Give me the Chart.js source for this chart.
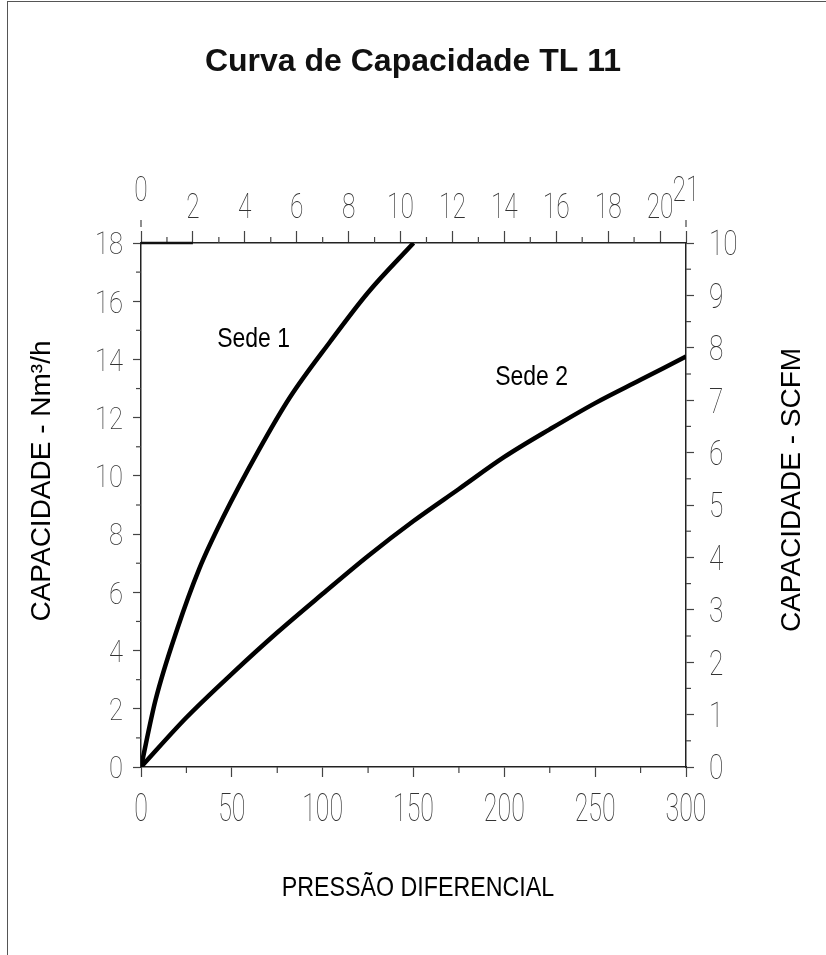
<!DOCTYPE html>
<html>
<head>
<meta charset="utf-8">
<title>Curva de Capacidade TL 11</title>
<script src="https://cdn.jsdelivr.net/npm/chart.js@4.4.1/dist/chart.umd.min.js"></script>
<style>
  html, body { margin: 0; padding: 0; background: #fff; }
  #wrap { position: relative; width: 826px; height: 955px; overflow: hidden; }
  #frame { position: absolute; left: 7px; top: 1px; right: -10px; bottom: -10px;
           border-left: 1.5px solid #555; border-top: 1.5px solid #555; pointer-events: none; }
  canvas { position: absolute; left: 0; top: 0; }
</style>
</head>
<body>
<div id="wrap">
  <canvas id="capChart" width="826" height="955"></canvas>
  <div id="frame"></div>
</div>
<script>
// Sede 1 curve (pressure differential vs capacity Nm3/h)
const sede1Pressure = [0, 8, 20, 32, 45, 65, 82, 104, 125, 150];
const sede1Flow     = [0, 2.3, 4.75, 6.8, 8.55, 10.9, 12.7, 14.6, 16.3, 18];

// Sede 2 curve
const sede2Pressure = [0, 25, 50, 75, 100, 125, 150, 175, 200, 225, 250, 275, 300];
const sede2Flow     = [0, 1.7, 3.2, 4.62, 5.95, 7.25, 8.45, 9.55, 10.65, 11.6, 12.5, 13.3, 14.1];

// tick values
const pressureTicks = [0, 50, 100, 150, 200, 250, 300];
const pressureMinor = [25, 75, 125, 175, 225, 275];
const topTicks      = [0, 2, 4, 6, 8, 10, 12, 14, 16, 18, 20, 21];
const topMinor      = [1, 3, 5, 7, 9, 11, 13, 15, 17, 19];
const topRaised     = [0, 21];
const nm3Ticks      = [0, 2, 4, 6, 8, 10, 12, 14, 16, 18];
const nm3Minor      = [1, 3, 5, 7, 9, 11, 13, 15, 17];
const scfmTicks     = [0, 1, 2, 3, 4, 5, 6, 7, 8, 9, 10];
const scfmMinor     = [0.5, 1.5, 2.5, 3.5, 4.5, 5.5, 6.5, 7.5, 8.5, 9.5];

// curve labels
const seatLabels   = ["Sede 1", "Sede 2"];
const seatLabelX   = [62, 215];
const seatLabelY   = [14.7, 13.4];

const tickFamily = "Roboto, 'DejaVu Sans', sans-serif";
const tickColor = "#333";
const axisColor = "#222";

function toPoints(xs, ys) {
  return xs.map((x, i) => ({ x: x, y: ys[i] }));
}

function fixedTicks(values) {
  return (scale) => {
    scale.ticks = values.map((v) => ({ value: v }));
  };
}

// draws a narrow, thin label centred vertically on cy
function thinText(ctx, text, x, cy, size, sx, align) {
  ctx.save();
  ctx.font = "100 " + size + "px " + tickFamily;
  ctx.textAlign = align;
  ctx.textBaseline = "alphabetic";
  ctx.translate(x, cy + size * 0.355);
  ctx.scale(sx, 1);
  ctx.fillText(text, 0, 0);
  ctx.restore();
}

// short minor ticks between the labelled ones
const minorTicksPlugin = {
  id: "minorTicks",
  afterDraw(chart) {
    const { ctx, chartArea } = chart;
    const specs = [
      { id: "x", values: pressureMinor, len: 6 },
      { id: "x2", values: topMinor, len: 6 },
      { id: "y", values: nm3Minor, len: 5 },
      { id: "y2", values: scfmMinor, len: 5 },
    ];
    ctx.save();
    ctx.strokeStyle = "#444";
    ctx.lineWidth = 1.2;
    specs.forEach((spec) => {
      const s = chart.scales[spec.id];
      spec.values.forEach((v) => {
        const p = s.getPixelForValue(v);
        ctx.beginPath();
        if (spec.id === "x") { ctx.moveTo(p, chartArea.bottom); ctx.lineTo(p, chartArea.bottom + spec.len); }
        if (spec.id === "x2") { ctx.moveTo(p, chartArea.top); ctx.lineTo(p, chartArea.top - spec.len); }
        if (spec.id === "y") { ctx.moveTo(chartArea.left, p); ctx.lineTo(chartArea.left - spec.len, p); }
        if (spec.id === "y2") { ctx.moveTo(chartArea.right, p); ctx.lineTo(chartArea.right + spec.len, p); }
        ctx.stroke();
      });
    });
    // little dash above the raised end labels of the top scale
    topRaised.forEach((v) => {
      const p = chart.scales.x2.getPixelForValue(v);
      ctx.beginPath();
      ctx.moveTo(p, chartArea.top - 16);
      ctx.lineTo(p, chartArea.top - 23);
      ctx.stroke();
    });
    // heavier start of the top line
    ctx.lineWidth = 2.5;
    ctx.strokeStyle = "#111";
    ctx.beginPath();
    ctx.moveTo(chart.scales.x2.getPixelForValue(0), chartArea.top);
    ctx.lineTo(chart.scales.x2.getPixelForValue(2), chartArea.top);
    ctx.stroke();
    ctx.restore();
  },
};

// tick labels, axis titles and curve names
const textPlugin = {
  id: "chartTexts",
  afterDraw(chart) {
    const { ctx, chartArea } = chart;
    const sc = chart.scales;
    ctx.save();
    ctx.fillStyle = tickColor;

    pressureTicks.forEach((v) => {
      thinText(ctx, String(v), sc.x.getPixelForValue(v), chartArea.bottom + 40, 39, 0.64, "center");
    });
    topTicks.forEach((v) => {
      const raised = topRaised.includes(v);
      thinText(ctx, String(v), sc.x2.getPixelForValue(v), chartArea.top - (raised ? 54 : 37), 35, 0.7, "center");
    });
    nm3Ticks.forEach((v) => {
      thinText(ctx, String(v), chartArea.left - 18, sc.y.getPixelForValue(v), 32, 0.8, "right");
    });
    scfmTicks.forEach((v) => {
      thinText(ctx, String(v), chartArea.right + 23, sc.y2.getPixelForValue(v), 35, 0.75, "left");
    });

    ctx.fillStyle = "#000";
    ctx.textAlign = "center";
    ctx.textBaseline = "middle";

    ctx.save();
    ctx.font = "28px 'Liberation Sans', Arial, sans-serif";
    ctx.translate(418, 888);
    ctx.scale(0.83, 1);
    ctx.fillText("PRESSÃO DIFERENCIAL", 0, 0);
    ctx.restore();

    ctx.font = "28px 'Liberation Sans', Arial, sans-serif";
    ctx.save();
    ctx.translate(42, 481);
    ctx.rotate(-Math.PI / 2);
    ctx.fillText("CAPACIDADE - Nm³/h", 0, 0);
    ctx.restore();

    ctx.save();
    ctx.translate(792, 490);
    ctx.rotate(-Math.PI / 2);
    ctx.fillText("CAPACIDADE - SCFM", 0, 0);
    ctx.restore();

    seatLabels.forEach((t, i) => {
      ctx.save();
      ctx.font = "28px 'Liberation Sans', Arial, sans-serif";
      ctx.translate(sc.x.getPixelForValue(seatLabelX[i]), sc.y.getPixelForValue(seatLabelY[i]));
      ctx.scale(0.82, 1);
      ctx.fillText(t, 0, 0);
      ctx.restore();
    });
    ctx.restore();
  },
};

const ctx = document.getElementById("capChart").getContext("2d");
new Chart(ctx, {
  type: "line",
  data: {
    datasets: [
      {
        label: "Sede 1",
        data: toPoints(sede1Pressure, sede1Flow),
        borderColor: "#000",
        borderWidth: 4.5,
        pointRadius: 0,
        cubicInterpolationMode: "monotone",
        xAxisID: "x",
        yAxisID: "y",
      },
      {
        label: "Sede 2",
        data: toPoints(sede2Pressure, sede2Flow),
        borderColor: "#000",
        borderWidth: 4.5,
        pointRadius: 0,
        cubicInterpolationMode: "monotone",
        xAxisID: "x",
        yAxisID: "y",
      },
    ],
  },
  options: {
    responsive: false,
    animation: false,
    layout: { padding: 0 },
    plugins: {
      legend: { display: false },
      tooltip: { enabled: false },
      title: {
        display: true,
        text: "Curva de Capacidade TL 11",
        color: "#111",
        font: { family: "'Liberation Sans', Arial, sans-serif", size: 32, weight: "bold", lineHeight: 1.2 },
        padding: { top: 43, bottom: 0 },
      },
    },
    scales: {
      x: {
        type: "linear",
        position: "bottom",
        min: 0,
        max: 300,
        afterBuildTicks: fixedTicks(pressureTicks),
        afterFit: (s) => { s.height = 188; },
        grid: { drawOnChartArea: false, tickLength: 10, tickColor: "#444", tickWidth: 1.2 },
        border: { color: axisColor, width: 1.5 },
        ticks: { display: false },
      },
      x2: {
        type: "linear",
        position: "top",
        min: 0,
        max: 21,
        afterBuildTicks: fixedTicks(topTicks),
        afterFit: (s) => { s.height = 161.6; },
        grid: { drawOnChartArea: false, tickLength: 12, tickColor: "#444", tickWidth: 1.2 },
        border: { color: axisColor, width: 1.5 },
        ticks: { display: false },
      },
      y: {
        type: "linear",
        position: "left",
        min: 0,
        max: 18,
        afterBuildTicks: fixedTicks(nm3Ticks),
        afterFit: (s) => { s.width = 141; },
        grid: { drawOnChartArea: false, tickLength: 8, tickColor: "#444", tickWidth: 1.2 },
        border: { color: axisColor, width: 1.5 },
        ticks: { display: false },
      },
      y2: {
        type: "linear",
        position: "right",
        min: 0,
        max: 10,
        afterBuildTicks: fixedTicks(scfmTicks),
        afterFit: (s) => { s.width = 140; },
        grid: { drawOnChartArea: false, tickLength: 8, tickColor: "#444", tickWidth: 1.2 },
        border: { color: axisColor, width: 1.5 },
        ticks: { display: false },
      },
    },
  },
  plugins: [minorTicksPlugin, textPlugin],
});
</script>
</body>
</html>
